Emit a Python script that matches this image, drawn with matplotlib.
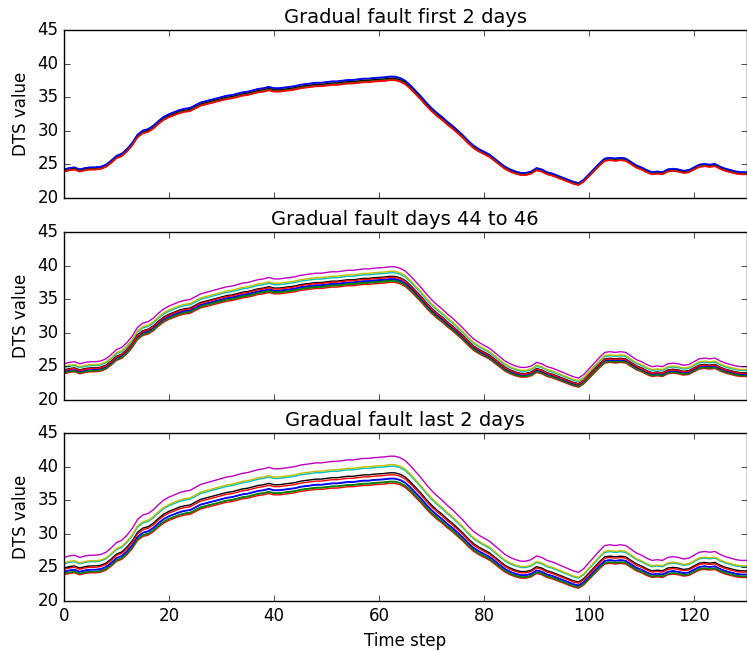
import matplotlib
matplotlib.use("Agg")
import matplotlib.pyplot as plt
import numpy as np

plt.style.use("classic")
plt.rcParams["figure.facecolor"] = "white"
plt.rcParams["savefig.facecolor"] = "white"
plt.rcParams["font.family"] = ["DejaVu Sans"]

# healthy reference trace (lowest red sensor), one value per time step
base_dts = [
    23.9, 24.1, 24.2, 23.9, 24.1, 24.2, 24.2, 24.3, 24.6, 25.2,
    25.9, 26.2, 26.9, 27.8, 29.0, 29.6, 29.8, 30.3, 31.0, 31.6,
    32.0, 32.3, 32.6, 32.8, 32.9, 33.3, 33.7, 33.9, 34.1, 34.3,
    34.5, 34.7, 34.8, 35.0, 35.2, 35.3, 35.5, 35.7, 35.8, 36.0,
    35.8, 35.8, 35.9, 36.0, 36.1, 36.3, 36.4, 36.5, 36.6, 36.6,
    36.7, 36.8, 36.8, 36.9, 37.0, 37.0, 37.1, 37.2, 37.2, 37.3,
    37.35, 37.4, 37.5, 37.5, 37.3, 36.9, 36.2, 35.4, 34.6, 33.7,
    32.9, 32.2, 31.6, 30.9, 30.3, 29.6, 28.9, 28.1, 27.4, 26.9,
    26.5, 26.1, 25.5, 24.9, 24.3, 23.9, 23.6, 23.4, 23.4, 23.6,
    24.1, 23.9, 23.5, 23.3, 23.0, 22.7, 22.4, 22.1, 21.9, 22.4,
    23.2, 24.0, 24.8, 25.5, 25.6, 25.5, 25.6, 25.5, 25.0, 24.5,
    24.2, 23.8, 23.5, 23.6, 23.5, 23.9, 24.0, 23.9, 23.7, 23.8,
    24.2, 24.6, 24.7, 24.6, 24.7, 24.3, 24.0, 23.8, 23.6, 23.5,
    23.5,
]
time_step = np.arange(len(base_dts))

line_colors = ["b", "g", "r", "c", "m", "y", "k", "b", "g", "r"]

# relative gain of each sensor trace vs the reference, per period
scale_first = [1.016, 1.006, 1.0, 1.008, 1.009, 1.011, 1.008, 1.014, 1.004, 1.002]
scale_mid = [1.012, 1.008, 1.0, 1.038, 1.062, 1.044, 1.024, 1.014, 1.005, 1.020]
scale_last = [1.020, 1.008, 1.0, 1.068, 1.108, 1.074, 1.042, 1.018, 1.006, 1.034]

titles = ["Gradual fault first 2 days", "Gradual fault days 44 to 46",
          "Gradual fault last 2 days"]
scales = [scale_first, scale_mid, scale_last]

fig = plt.figure(figsize=(7.47, 6.52), dpi=100)
W, H = 747.0, 652.0
tops = [30, 232, 433]
base = np.array(base_dts)

axes = []
for i, (title, sc) in enumerate(zip(titles, scales)):
    top = tops[i]
    ax = fig.add_axes([64 / W, 1 - (top + 168) / H, 682.5 / W, 168 / H])
    for c, s in zip(line_colors, sc):
        ax.plot(time_step, base * s, color=c, lw=1.0)
    ax.set_xlim(0, 130)
    ax.set_ylim(20, 45)
    ax.set_yticks([20, 25, 30, 35, 40, 45])
    ax.set_xticks([0, 20, 40, 60, 80, 100, 120])
    ax.set_title(title, fontsize=14)
    ax.set_ylabel("DTS value", fontsize=12)
    ax.tick_params(labelsize=12)
    if i < 2:
        ax.set_xticklabels([])
    axes.append(ax)

axes[-1].set_xlabel("Time step", fontsize=12)

fig.savefig("out.png", dpi=100)
